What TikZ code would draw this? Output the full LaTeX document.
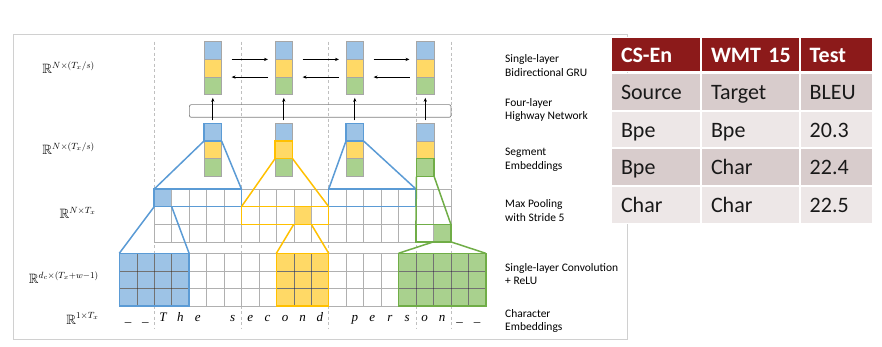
\documentclass[tikz,border=0pt]{standalone}
\usepackage{amssymb}
\usepackage{fontspec}
\newfontfamily\calibri{Carlito}
\newfontfamily\charfont{Liberation Serif}
\usetikzlibrary{arrows.meta,positioning}
\definecolor{bluef}{HTML}{9DC3E6}
\definecolor{blueo}{HTML}{5B9BD5}
\definecolor{yelf}{HTML}{FFD966}
\definecolor{yelo}{HTML}{FFC000}
\definecolor{grnf}{HTML}{A9D18E}
\definecolor{grno}{HTML}{70AD47}
\definecolor{cellgray}{HTML}{A6A6A6}
\definecolor{gridgray}{HTML}{B0B0B0}
\definecolor{sepgray}{HTML}{BFBFBF}
\definecolor{framegray}{HTML}{D0D0D0}
\definecolor{hwygray}{HTML}{7F7F7F}
\definecolor{thead}{HTML}{8C1A1A}
\definecolor{tdark}{HTML}{D8CCCC}
\definecolor{tlight}{HTML}{EDE7E7}
\tikzset{
  cell/.style={draw=cellgray, line width=0.6pt, minimum width=17.6pt, minimum height=17.7pt,
    inner sep=0pt, outer sep=0pt, anchor=north west},
  blk/.style={inner sep=0pt, outer sep=0pt, anchor=north west},
  hit/.style={line width=1.5pt},
  gridline/.style={draw=gridgray, line width=0.5pt},
  darkline/.style={draw=black, draw opacity=0.35, line width=0.5pt},
  sep/.style={draw=sepgray, dash pattern=on 3pt off 2.5pt, line width=0.6pt},
  flow/.style={-{Stealth[length=4pt,width=3.2pt]}, line width=0.7pt},
  layerlab/.style={font=\calibri\fontsize{11.5}{13.6}\selectfont, align=left, anchor=west, inner sep=0pt},
  dimlab/.style={font=\fontsize{13.5}{16}\selectfont, anchor=base east, inner sep=0pt},
  chr/.style={font=\charfont\itshape\fontsize{13}{15}\selectfont, anchor=base, inner sep=0pt},
  tcell/.style={anchor=north west, draw=white, line width=1pt, inner ysep=0pt, inner xsep=9.5pt,
    text height=15.5pt, text depth=0pt, align=left, font=\calibri\fontsize{22}{24}\selectfont},
  thd/.style={tcell, fill=thead, text=white, font=\calibri\bfseries\fontsize{22}{24}\selectfont,
    minimum height=34.3pt},
  tdk/.style={tcell, fill=tdark, text=black!90, minimum height=36.5pt},
  tlt/.style={tcell, fill=tlight, text=black!90, minimum height=36.5pt},
  colA/.style={minimum width=89pt, text width=70pt},
  colB/.style={minimum width=97.7pt, text width=78.7pt},
  colC/.style={minimum width=72.3pt, text width=53.3pt},
}

\begin{document}
\begin{tikzpicture}[x=1pt, y=-1pt]
\useasboundingbox (0,0) rectangle (882,347);

% outer frame
\draw[framegray, line width=0.8pt] (13,34.5) rectangle (627.5,339.3);

% character / pooling grids, one unit = one cell
\begin{scope}[shift={(119.3,253.3)}, x=17.45pt, y=-17.6pt]
  % segment boundaries
  \foreach \c in {2,7,12,17,19}
    \draw[sep] (\c,-12.02) -- (\c,4.24);

  % coloured conv windows and pooled maxima
  \node[blk, fill=bluef, minimum width=4*17.45pt, minimum height=3*17.6pt] (convb) at (0,0) {};
  \node[blk, fill=yelf, minimum width=3*17.45pt, minimum height=3*17.6pt] (convy) at (9,0) {};
  \node[blk, fill=grnf, minimum width=5*17.45pt, minimum height=3*17.6pt] (convg) at (16,0) {};
  \node[blk, fill=bluef, minimum width=17.45pt, minimum height=17.6pt] (maxb) at (2,-3.65) {};
  \node[blk, fill=yelf, minimum width=17.45pt, minimum height=17.6pt] (maxy) at (10,-2.65) {};
  \node[blk, fill=grnf, minimum width=17.45pt, minimum height=17.6pt] (maxg) at (18,-1.65) {};

  % pooling windows
  \node[blk, minimum width=5*17.45pt, minimum height=17.6pt] (winb1) at (2,-3.65) {};
  \node[blk, minimum width=5*17.45pt, minimum height=17.6pt] (winy) at (7,-2.65) {};
  \node[blk, minimum width=5*17.45pt, minimum height=17.6pt] (winb2) at (12,-3.65) {};
  \node[blk, minimum width=2*17.45pt, minimum height=17.6pt] (wing) at (17,-1.65) {};

  % conv grid
  \foreach \c in {0,...,21}
    \draw[gridline] (\c,0) -- (\c,3);
  \foreach \r in {0,...,3}
    \draw[gridline] (0,\r) -- (21,\r);
  % pooling grid
  \foreach \c in {2,...,19}
    \draw[gridline] (\c,-3.65) -- (\c,-0.65);
  \foreach \r in {-3.65,-2.65,-1.65,-0.65}
    \draw[gridline] (2,\r) -- (19,\r);

  % darker lines over the coloured blocks
  \begin{scope}
    \clip (convb.north west) rectangle (convb.south east)
          (convy.north west) rectangle (convy.south east)
          (convg.north west) rectangle (convg.south east);
    \foreach \c in {0,...,21}
      \draw[darkline] (\c,0) -- (\c,3);
    \foreach \r in {1,2}
      \draw[darkline] (0,\r) -- (21,\r);
  \end{scope}

  \draw[blueo, hit] (convb.north west) rectangle (convb.south east);
  \draw[yelo, hit] (convy.north west) rectangle (convy.south east);
  \draw[grno, hit] (convg.north west) rectangle (convg.south east);
  \draw[blueo, hit] (winb1.north west) rectangle (winb1.south east);
  \draw[yelo, hit] (winy.north west) rectangle (winy.south east);
  \draw[blueo, hit] (winb2.north west) rectangle (winb2.south east);
  \draw[grno, hit] (wing.north west) rectangle (wing.south east);

  \draw[blueo, hit] (maxb.south west) -- (convb.north west);
  \draw[blueo, hit] (maxb.south east) -- (convb.north east);
  \draw[yelo, hit] (maxy.south west) -- (convy.north west);
  \draw[yelo, hit] (maxy.south east) -- (convy.north east);
  \draw[grno, hit] (maxg.south west) -- (convg.north west);
  \draw[grno, hit] (maxg.south east) -- (convg.north east);

  % input characters
  \foreach \n/\ch in {0/\_,1/\_,2/T,3/h,4/e,6/s,7/e,8/c,9/o,10/n,11/d,
                      13/p,14/e,15/r,16/s,17/o,18/n,19/\_,20/\_}
    \node[chr] (ch\n) at (\n+0.5,3.85) {\ch};
\end{scope}

% segment embeddings and GRU states
\foreach \i/\x in {1/204,2/275,3/346,4/416.5}{
  \node[cell, fill=bluef] (gru\i-b) at (\x,41.7) {};
  \node[cell, fill=yelf, below=0pt of gru\i-b] (gru\i-y) {};
  \node[cell, fill=grnf, below=0pt of gru\i-y] (gru\i-g) {};
  \node[cell, fill=bluef] (seg\i-b) at (\x,123.3) {};
  \node[cell, fill=yelf, below=0pt of seg\i-b] (seg\i-y) {};
  \node[cell, fill=grnf, below=0pt of seg\i-y] (seg\i-g) {};
}
\draw[blueo, hit] (seg1-b.north west) rectangle (seg1-b.south east);
\draw[yelo, hit] (seg2-y.north west) rectangle (seg2-y.south east);
\draw[blueo, hit] (seg3-b.north west) rectangle (seg3-b.south east);
\draw[grno, hit] (seg4-g.north west) rectangle (seg4-g.south east);

\draw[blueo, hit] (seg1-b.south west) -- (winb1.north west);
\draw[blueo, hit] (seg1-b.south east) -- (winb1.north east);
\draw[yelo, hit] (seg2-y.south west) -- (winy.north west);
\draw[yelo, hit] (seg2-y.south east) -- (winy.north east);
\draw[blueo, hit] (seg3-b.south west) -- (winb2.north west);
\draw[blueo, hit] (seg3-b.south east) -- (winb2.north east);
\draw[grno, hit] (seg4-g.south west) -- (wing.north west);
\draw[grno, hit] (seg4-g.south east) -- (wing.north east);

% highway network
\node[draw=hwygray, line width=0.7pt, rounded corners=2pt, anchor=north west,
  minimum width=261.7pt, minimum height=12.7pt, inner sep=0pt] (hwy) at (189,104.3) {};
\foreach \i in {1,...,4}
  \draw[flow, shorten <=3pt, shorten >=3pt] (seg\i-b.north) -- (gru\i-g.south);

% bidirectional GRU
\foreach \i/\j in {1/2,2/3,3/4}{
  \draw[flow, shorten <=10pt, shorten >=7pt] (gru\i-b.south east) -- (gru\j-b.south west);
  \draw[flow, shorten <=7pt, shorten >=10pt] (gru\j-y.south west) -- (gru\i-y.south east);
}

% dimensions
\node[dimlab] (dim1) at (95,74) {$\mathbb{R}^{N\times(T_x/s)}$};
\node[dimlab] (dim2) at (95,155) {$\mathbb{R}^{N\times(T_x/s)}$};
\node[dimlab] (dim3) at (96,218.3) {$\mathbb{R}^{N\times T_x}$};
\node[dimlab] (dim4) at (99,283.3) {$\mathbb{R}^{d_c\times(T_x+w-1)}$};
\node[dimlab] (dim5) at (99,324) {$\mathbb{R}^{1\times T_x}$};

% layer names
\node[layerlab] (lgru) at (505,65.5) {Single-layer\\Bidirectional GRU};
\node[layerlab] (lhwy) at (505,110) {Four-layer\\Highway Network};
\node[layerlab] (lseg) at (505,160) {Segment\\Embeddings};
\node[layerlab] (lpool) at (505,210.3) {Max Pooling\\with Stride 5};
\node[layerlab] (lconv) at (505,274) {Single-layer Convolution\\+ ReLU};
\node[layerlab] (lchar) at (505,321) {Character\\Embeddings};

% results table
\node[thd, colA] (hA) at (611,36.7) {CS-En};
\node[thd, colB, right=0pt of hA] (hB) {WMT~15};
\node[thd, colC, right=0pt of hB] (hC) {Test};
\node[tdk, colA, below=1.5pt of hA] (sA) {Source};
\node[tdk, colB, right=0pt of sA] (sB) {Target};
\node[tdk, colC, right=0pt of sB] (sC) {BLEU};
\node[tlt, colA, below=0pt of sA] (aA) {Bpe};
\node[tlt, colB, right=0pt of aA] (aB) {Bpe};
\node[tlt, colC, right=0pt of aB] (aC) {20.3};
\node[tdk, colA, below=0pt of aA] (bA) {Bpe};
\node[tdk, colB, right=0pt of bA] (bB) {Char};
\node[tdk, colC, right=0pt of bB] (bC) {22.4};
\node[tlt, colA, below=0pt of bA] (cA) {Char};
\node[tlt, colB, right=0pt of cA] (cB) {Char};
\node[tlt, colC, right=0pt of cB] (cC) {22.5};

\end{tikzpicture}
\end{document}
